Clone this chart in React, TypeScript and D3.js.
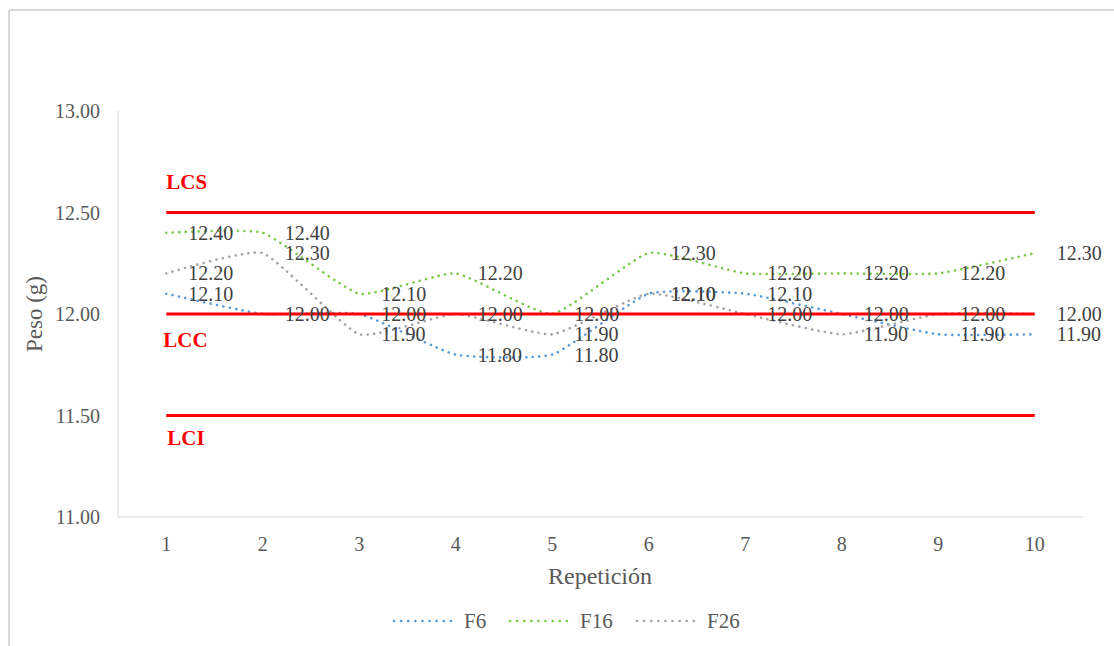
import React, { useEffect, useRef } from 'react';
import * as d3 from 'd3';

const repeticiones = [1, 2, 3, 4, 5, 6, 7, 8, 9, 10];
const f6 = [12.1, 12.0, 12.0, 11.8, 11.8, 12.1, 12.1, 12.0, 11.9, 11.9];
const f16 = [12.4, 12.4, 12.1, 12.2, 12.0, 12.3, 12.2, 12.2, 12.2, 12.3];
const f26 = [12.2, 12.3, 11.9, 12.0, 11.9, 12.1, 12.0, 11.9, 12.0, 12.0];
const yTicks = [11.0, 11.5, 12.0, 12.5, 13.0];

const limites = [
  { name: 'LCS', value: 12.5, dy: -31, dx: 0 },
  { name: 'LCC', value: 12.0, dy: 26, dx: -3 },
  { name: 'LCI', value: 11.5, dy: 22, dx: 1 },
];

const series = [
  { name: 'F6', values: f6, color: '#5b9bd5' },
  { name: 'F16', values: f16, color: '#7cc84b' },
  { name: 'F26', values: f26, color: '#a5a5a5' },
];

const FONT = 'Liberation Serif, Times New Roman, Times, serif';

const App: React.FC = () => {
  const ref = useRef<SVGSVGElement>(null);

  useEffect(() => {
    const svg = d3.select(ref.current);
    svg.selectAll('*').remove();

    const width = 1114;
    const height = 646;
    const left = 118, right = 1083, top = 111, bottom = 517;

    svg.attr('width', width).attr('height', height).attr('font-family', FONT);

    // marco exterior (solo se ven arriba e izquierda)
    svg.append('line').attr('x1', 9).attr('x2', width).attr('y1', 10).attr('y2', 10)
      .attr('stroke', '#d9d9d9').attr('stroke-width', 2);
    svg.append('line').attr('x1', 9).attr('x2', 9).attr('y1', 10).attr('y2', height)
      .attr('stroke', '#d9d9d9').attr('stroke-width', 2);

    const x = d3.scalePoint<number>().domain(repeticiones).range([left, right]).padding(0.5);
    const y = d3.scaleLinear().domain([11, 13]).range([bottom, top]);

    // ejes
    svg.append('line').attr('x1', left).attr('x2', left).attr('y1', top).attr('y2', bottom)
      .attr('stroke', '#d9d9d9').attr('stroke-width', 1);
    svg.append('line').attr('x1', left).attr('x2', right).attr('y1', bottom).attr('y2', bottom)
      .attr('stroke', '#d9d9d9').attr('stroke-width', 1);

    svg.append('g').selectAll('text').data(yTicks).enter().append('text')
      .attr('x', 100).attr('y', d => y(d)).attr('dy', '0.35em')
      .attr('text-anchor', 'end').attr('font-size', 20)
      .attr('fill', '#595959').text(d => d.toFixed(2));

    svg.append('g').selectAll('text').data(repeticiones).enter().append('text')
      .attr('x', d => x(d)!).attr('y', 544).attr('dy', '0.35em')
      .attr('text-anchor', 'middle').attr('font-size', 20)
      .attr('fill', '#595959').text(d => String(d));

    svg.append('text').attr('transform', `translate(34, ${(top + bottom) / 2}) rotate(-90)`)
      .attr('text-anchor', 'middle').attr('dy', '0.35em')
      .attr('font-size', 23).attr('fill', '#595959').text('Peso (g)');

    svg.append('text').attr('x', 600).attr('y', 576).attr('dy', '0.35em')
      .attr('text-anchor', 'middle').attr('font-size', 24)
      .attr('fill', '#595959').text('Repetición');

    // series
    const line = d3.line<number>()
      .x((d, i) => x(repeticiones[i])!)
      .y(d => y(d))
      .curve(d3.curveCardinal.tension(0.55));

    series.forEach(s => {
      svg.append('path').datum(s.values).attr('d', line).attr('fill', 'none')
        .attr('stroke', s.color).attr('stroke-width', 2.6)
        .attr('stroke-dasharray', '0.1 6.4').attr('stroke-linecap', 'round');
    });

    // límites de control
    const x0 = x(repeticiones[0])!;
    const x1 = x(repeticiones[repeticiones.length - 1])!;
    limites.forEach(l => {
      svg.append('line').attr('x1', x0).attr('x2', x1).attr('y1', y(l.value)).attr('y2', y(l.value))
        .attr('stroke', '#ff0000').attr('stroke-width', 3);
      svg.append('text').attr('x', x0 + l.dx).attr('y', y(l.value) + l.dy).attr('dy', '0.35em')
        .attr('font-size', 21).attr('font-weight', 'bold')
        .attr('fill', '#ff0000').text(l.name);
    });

    // etiquetas de datos
    series.forEach(s => {
      svg.append('g').selectAll('text').data(s.values).enter().append('text')
        .attr('x', (d, i) => x(repeticiones[i])! + 22).attr('y', d => y(d)).attr('dy', '0.35em')
        .attr('font-size', 20).attr('fill', '#404040')
        .text(d => d.toFixed(2));
    });

    // leyenda
    const legendX = [394, 510, 637];
    series.forEach((s, i) => {
      svg.append('line').attr('x1', legendX[i]).attr('x2', legendX[i] + 59).attr('y1', 621).attr('y2', 621)
        .attr('stroke', s.color).attr('stroke-width', 2.6)
        .attr('stroke-dasharray', '0.1 7').attr('stroke-linecap', 'round');
      svg.append('text').attr('x', legendX[i] + 70).attr('y', 621).attr('dy', '0.35em')
        .attr('font-size', 21).attr('fill', '#595959').text(s.name);
    });
  }, []);

  return (
    <svg ref={ref} style={{ position: 'absolute', left: 0, top: 0, background: '#fff' }}></svg>
  );
};

export default App;
